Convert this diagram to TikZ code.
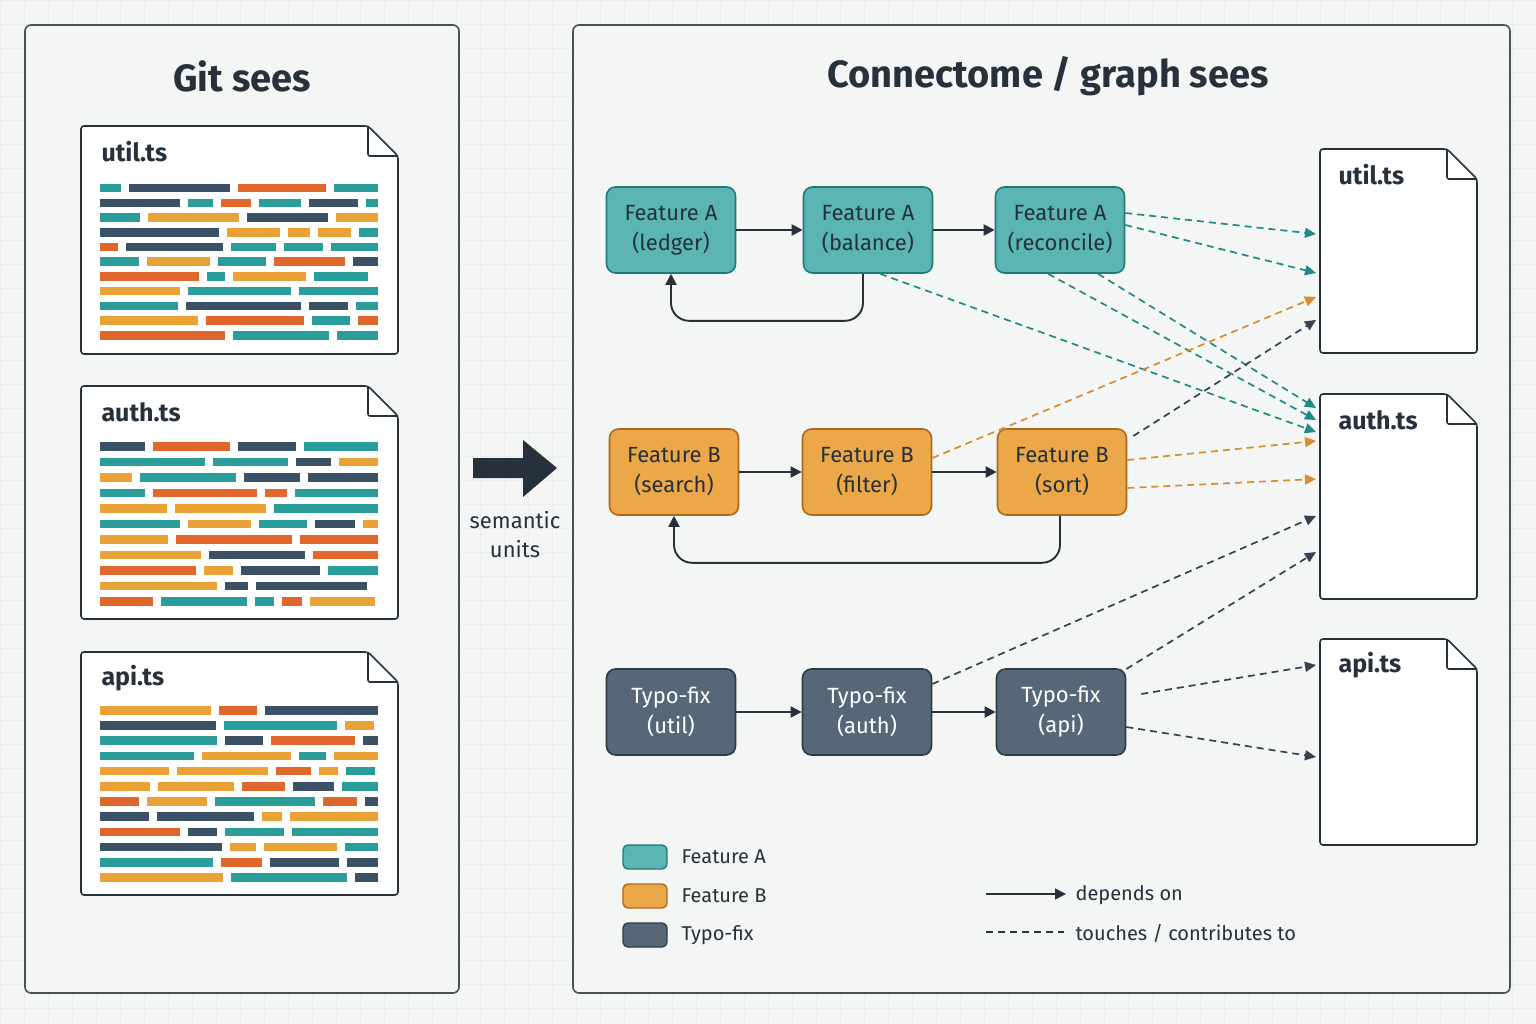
\documentclass[tikz,border=0pt]{standalone}
\usepackage{fontspec}
\setmainfont{Fira Sans}
\usetikzlibrary{arrows.meta}
\definecolor{bg}{HTML}{F4F5F5}
\definecolor{gridc}{HTML}{ECEEEE}
\definecolor{ink}{HTML}{27313B}
\definecolor{tfill}{HTML}{5BB5B3}\definecolor{tdraw}{HTML}{1E7B7A}
\definecolor{ofill}{HTML}{EBA748}\definecolor{odraw}{HTML}{A96A1E}
\definecolor{dfill}{HTML}{566878}\definecolor{ddraw}{HTML}{2E3C48}
\definecolor{tline}{HTML}{1F8A87}\definecolor{oline}{HTML}{D98D2B}\definecolor{dline}{HTML}{36434F}
\definecolor{col1}{HTML}{2A9D9A}\definecolor{col2}{HTML}{2A9D9A}
\definecolor{col3}{HTML}{3B5266}\definecolor{col4}{HTML}{3B5266}
\definecolor{col5}{HTML}{EAA236}\definecolor{col6}{HTML}{EAA236}
\definecolor{col7}{HTML}{E0672C}
\tikzset{
 panel/.style={draw=ink!85,line width=1.6pt,rounded corners=6pt,fill=bg},
 unit/.style={rounded corners=9pt,line width=1.6pt,minimum width=129pt,minimum height=86pt,align=center,font=\fontsize{22}{30}\selectfont},
 ua/.style={unit,fill=tfill,draw=tdraw,text=ink},
 ub/.style={unit,fill=ofill,draw=odraw,text=ink},
 uc/.style={unit,fill=dfill,draw=ddraw,text=white},
 dep/.style={-{Triangle[length=11pt,width=11pt]},line width=1.9pt,draw=ink},
 tch/.style={-{Triangle[length=11pt,width=10pt]},line width=1.7pt,dash pattern=on 7pt off 5pt},
 fl/.style={font=\fontsize{25}{30}\selectfont\bfseries,text=ink,anchor=west},
 lg/.style={font=\fontsize{20}{24}\selectfont,text=ink,anchor=west},
}
\newcommand\docshape[4]{% x1 y1 x2 y2
 \draw[fill=white,line width=1.6pt,draw=ink,rounded corners=3pt] (#1,#2) -- (#3-30,#2) -- (#3,#2+30) -- (#3,#4) -- (#1,#4) -- cycle;
 \draw[line width=1.6pt,draw=ink,rounded corners=2pt] (#3-30,#2) -- (#3-30,#2+30) -- (#3,#2+30);}
\newcommand\codelines[4]{% y0 step rows seed
 \pgfmathsetseed{#4}
 \foreach \r in {1,...,#3}{
  \pgfmathsetmacro\yy{#1+(\r-1)*#2}
  \def\xcur{100}
  \loop
   \pgfmathrandominteger{\w}{18}{125}
   \pgfmathrandominteger{\c}{1}{7}
   \pgfmathsetmacro\xend{min(\xcur+\w,378)}
   \fill[col\c] (\xcur,\yy) rectangle (\xend,\yy+8.5);
   \pgfmathsetmacro\xcur{\xend+8}
  \ifdim\xcur pt<368pt \repeat
 }}
\begin{document}
\begin{tikzpicture}[x=1pt,y=-1pt]
\fill[bg] (0,0) rectangle (1536,1024);
\useasboundingbox (0,0) rectangle (1536,1024);
\foreach \g in {0,24,...,1536} \draw[gridc,line width=0.6pt] (\g,0) -- (\g,1024);
\foreach \g in {0,24,...,1024} \draw[gridc,line width=0.6pt] (0,\g) -- (1536,\g);
% left panel
\draw[panel] (25,25) rectangle (459,993);
\node[font=\fontsize{38}{44}\selectfont\bfseries,text=ink] (t1) at (242,76) {Git sees};
\docshape{81}{126}{398}{354}
\node[fl] (f1) at (98,152) {util.ts};
\codelines{184}{14.7}{11}{11}
\docshape{81}{386}{398}{619}
\node[fl] (f2) at (98,412) {auth.ts};
\codelines{442}{15.5}{11}{27}
\docshape{81}{652}{398}{895}
\node[fl] (f3) at (98,678) {api.ts};
\codelines{706}{15.2}{12}{53}
% big arrow
\fill[ink] (473,458) -- (523,458) -- (523,440) -- (557,468) -- (523,497) -- (523,478) -- (473,478) -- cycle;
\node[font=\fontsize{22}{29}\selectfont,text=ink,align=center] (su) at (515,535) {semantic\\units};
% right panel
\draw[panel] (573,25) rectangle (1510,993);
\node[font=\fontsize{38}{44}\selectfont\bfseries,text=ink] (t2) at (1048,76) {Connectome / graph sees};
% files
\docshape{1320}{149}{1477}{353}
\node[fl] (gu) at (1335,175) {util.ts};
\docshape{1320}{394}{1477}{599}
\node[fl] (ga) at (1335,420) {auth.ts};
\docshape{1320}{639}{1477}{845}
\node[fl] (gp) at (1335,665) {api.ts};
\foreach \n/\y in {u1/234,u2/273,u3/297,u4/320,a1/408,a2/420,a3/432,a4/441,a5/479,a6/516,a7/552,p1/665,p2/757}
  \coordinate (\n) at (1316,\y);
% units
\node[ua] (al) at (671,230) {Feature A\\(ledger)};
\node[ua] (ab) at (868,230) {Feature A\\(balance)};
\node[ua] (ar) at (1060,230) {Feature A\\(reconcile)};
\node[ub] (bs) at (674,472) {Feature B\\(search)};
\node[ub] (bf) at (867,472) {Feature B\\(filter)};
\node[ub] (bo) at (1062,472) {Feature B\\(sort)};
\node[uc] (cu) at (671,712) {Typo-fix\\(util)};
\node[uc] (ca) at (867,712) {Typo-fix\\(auth)};
\node[uc] (cp) at (1061,712) {Typo-fix\\(api)};
\draw[dep] (al) -- (ab); \draw[dep] (ab) -- (ar);
\draw[dep] (bs) -- (bf); \draw[dep] (bf) -- (bo);
\draw[dep] (cu) -- (ca); \draw[dep] (ca) -- (cp);
\draw[dep,rounded corners=18pt] (ab.south) ++(-5,0) -- ++(0,47) -| (al.south);
\draw[dep,rounded corners=18pt] (bo.south) ++(-2,0) -- ++(0,47) -| (bs.south);
% touches
\draw[tch,tline] ([yshift=17pt]ar.east) -- (u1);
\draw[tch,tline] ([yshift=5pt]ar.east) -- (u2);
\draw[tch,tline] ([xshift=12pt]ab.south) -- (a3);
\draw[tch,tline] ([xshift=-12pt]ar.south) -- (a2);
\draw[tch,tline] ([xshift=38pt]ar.south) -- (a1);
\draw[tch,oline] ([yshift=14pt]bf.east) -- (u3);
\draw[tch,oline] ([yshift=12pt]bo.east) -- (a4);
\draw[tch,oline] ([yshift=-16pt]bo.east) -- (a5);
\draw[tch,dline] ([xshift=6pt,yshift=36pt]bo.east) -- (u4);
\draw[tch,dline] ([yshift=28pt]ca.east) -- (a6);
\draw[tch,dline] ([yshift=43pt]cp.east) -- (a7);
\draw[tch,dline] ([xshift=15pt,yshift=18pt]cp.east) -- (p1);
\draw[tch,dline] ([yshift=-15pt]cp.east) -- (p2);
% legend
\draw[fill=tfill,draw=tdraw,line width=1.4pt,rounded corners=5pt] (623,845) rectangle (667,869);
\node[lg] (l1) at (678,857) {Feature A};
\draw[fill=ofill,draw=odraw,line width=1.4pt,rounded corners=5pt] (623,884) rectangle (667,908);
\node[lg] (l2) at (678,896) {Feature B};
\draw[fill=dfill,draw=ddraw,line width=1.4pt,rounded corners=5pt] (623,923) rectangle (667,947);
\node[lg] (l3) at (678,935) {Typo-fix};
\coordinate (s1) at (986,894); \coordinate (s2) at (1066,894);
\draw[dep,line width=1.5pt] (s1) -- (s2);
\node[lg] (l4) at (1072,895) {depends on};
\coordinate (d1) at (986,932); \coordinate (d2) at (1064,932);
\draw[line width=1.4pt,draw=ink,dash pattern=on 7pt off 5pt] (d1) -- (d2);
\node[lg] (l5) at (1072,933) {touches / contributes to};
\end{tikzpicture}
\end{document}
